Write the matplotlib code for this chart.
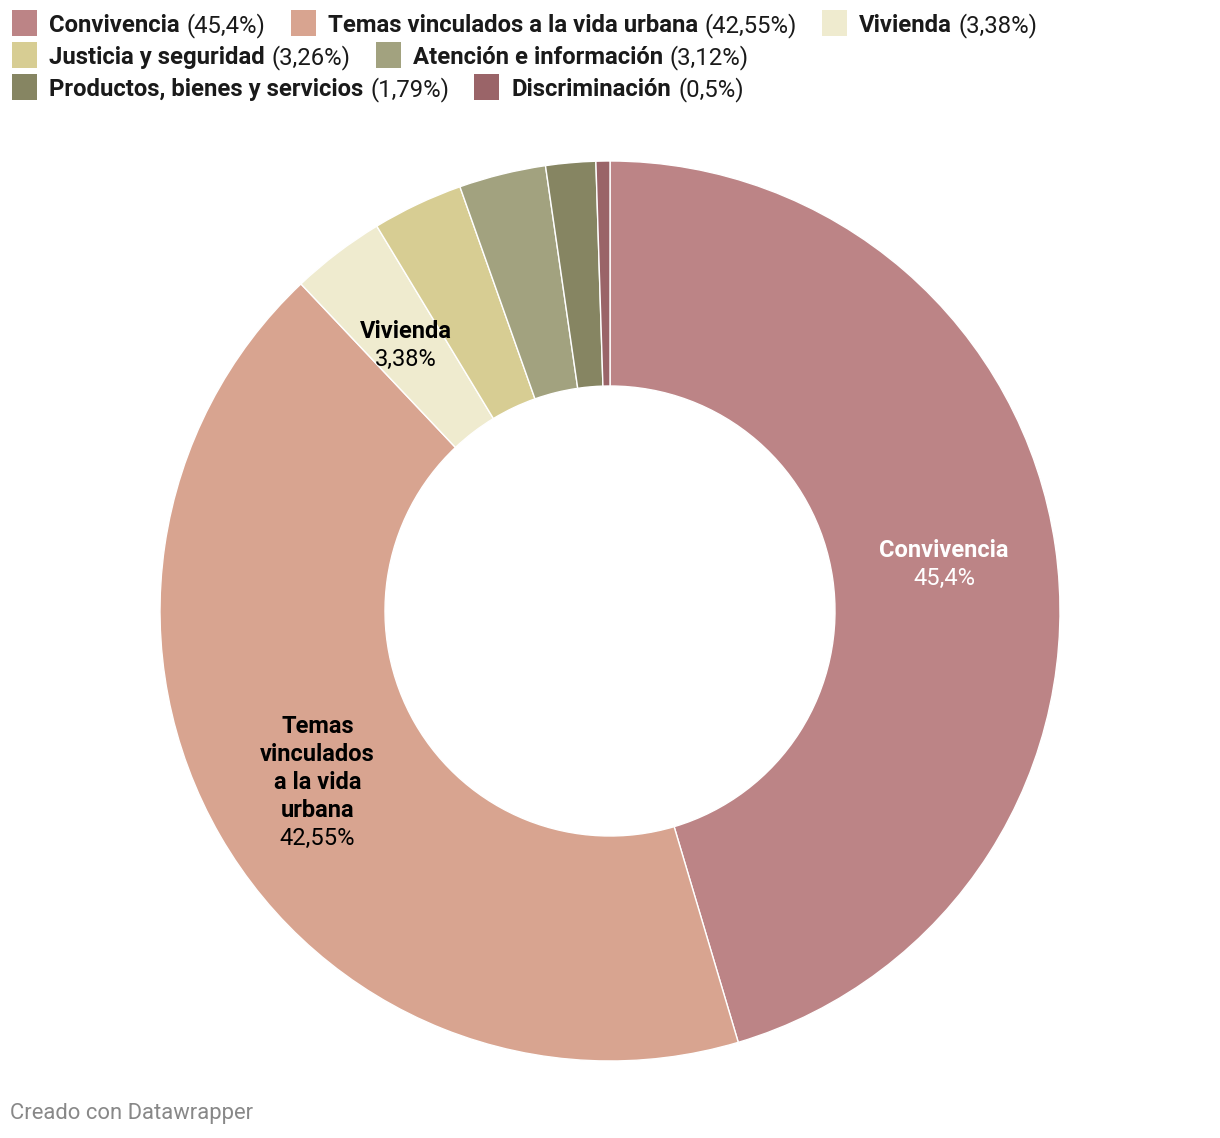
import matplotlib
matplotlib.use("Agg")
import matplotlib.pyplot as plt
from matplotlib.patches import Rectangle
import numpy as np

plt.rcParams['font.family'] = ['Roboto', 'DejaVu Sans']

categories = ["Convivencia", "Temas vinculados a la vida urbana", "Vivienda",
              "Justicia y seguridad", "Atención e información",
              "Productos, bienes y servicios", "Discriminación"]
values = [45.4, 42.55, 3.38, 3.26, 3.12, 1.79, 0.5]
value_labels = ["45,4%", "42,55%", "3,38%", "3,26%", "3,12%", "1,79%", "0,5%"]
colors = ["#bc8486", "#d8a490", "#efebcf", "#d7cd93", "#a2a27f", "#868562", "#9a6468"]
# inner labels: (category index, wrapped name, text colour)
inner_labels = [(0, "Convivencia", "white"),
                (1, "Temas\nvinculados\na la vida\nurbana", "#000000"),
                (2, "Vivienda", "#000000")]
legend_rows = [[0, 1, 2], [3, 4], [5, 6]]

W, H = 1220, 1138
fig = plt.figure(figsize=(W / 100, H / 100), dpi=100)
fig.patch.set_facecolor("white")

cx, cy, R = 610, 611, 450
ax = fig.add_axes([(cx - R) / W, (H - cy - R) / H, 2 * R / W, 2 * R / H])
ax.pie(values, colors=colors, startangle=90, counterclock=False,
       radius=1.0, wedgeprops=dict(width=0.5, edgecolor="white", linewidth=1.0))
ax.set_aspect("auto")
ax.set_xlim(-1, 1)
ax.set_ylim(-1, 1)
ax.axis("off")

# inner labels
total = sum(values)
cum = np.cumsum([0] + values)
fs = 17
line_px = 28
for idx, name, col in inner_labels:
    mid = (cum[idx] + values[idx] / 2) / total * 360
    ang = np.deg2rad(90 - mid)
    r = 0.75
    x, y = r * np.cos(ang), r * np.sin(ang)
    nlines = name.count("\n") + 1
    line_h = line_px / R
    centers = y + ((nlines) / 2 - np.arange(nlines + 1)) * line_h
    for li, ln in enumerate(name.split("\n")):
        ax.text(x, centers[li], ln, ha="center", va="center_baseline", fontsize=fs,
                fontweight="bold", color=col)
    ax.text(x, centers[nlines], value_labels[idx], ha="center", va="center_baseline",
            fontsize=fs, color=col)

# legend
fig.canvas.draw()
renderer = fig.canvas.get_renderer()
row_y = [23, 55, 87]
sq = 25
lfs = 17.2
for ri, row in enumerate(legend_rows):
    xpos = 12
    yc = row_y[ri]
    for idx in row:
        fig.patches.append(Rectangle((xpos / W, (H - yc - sq / 2) / H), sq / W, sq / H,
                                     transform=fig.transFigure, facecolor=colors[idx],
                                     edgecolor="none"))
        tx = xpos + 37
        t1 = fig.text(tx / W, (H - yc) / H, categories[idx], ha="left", va="center_baseline",
                      fontsize=lfs, fontweight="bold", color="#1a1a1a")
        bb = t1.get_window_extent(renderer)
        t2 = fig.text((bb.x1 + 7) / W, (H - yc) / H, "(" + value_labels[idx] + ")", ha="left",
                      va="center_baseline", fontsize=lfs, color="#1a1a1a")
        bb2 = t2.get_window_extent(renderer)
        xpos = bb2.x1 + 25

fig.text(10 / W, (H - 1114) / H, "Creado con Datawrapper", ha="left", va="center",
         fontsize=15.8, color="#888888")

fig.savefig("out.png", dpi=100, facecolor="white")
